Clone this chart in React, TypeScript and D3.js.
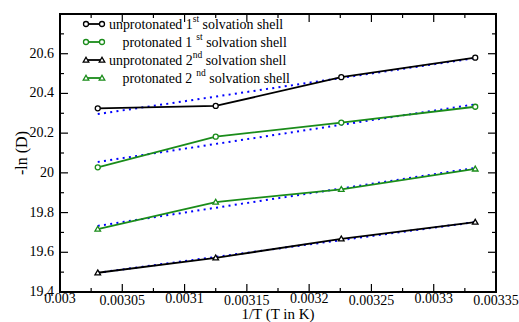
import React from "react";
import * as d3 from "d3";

const xTemps = [330, 320, 310, 300];
const xValues = xTemps.map((t) => 1 / t);

const unprot1 = [20.325, 20.337, 20.482, 20.58];
const prot1 = [20.028, 20.182, 20.253, 20.333];
const unprot2 = [19.497, 19.572, 19.668, 19.752];
const prot2 = [19.717, 19.853, 19.917, 20.02];

// fitted (dotted blue) lines: values at first and last x
const fitUnprot1 = [20.296, 20.578];
const fitProt1 = [20.055, 20.345];
const fitUnprot2 = [19.497, 19.752];
const fitProt2 = [19.733, 20.025];

const xTicks = [0.003, 0.00305, 0.0031, 0.00315, 0.0032, 0.00325, 0.0033, 0.00335];
const xTickLabels = ["0.003", "0.00305", "0.0031", "0.00315", "0.0032", "0.00325", "0.0033", "0.00335"];
const yTicks = [19.4, 19.6, 19.8, 20, 20.2, 20.4, 20.6];
const yTickLabels = ["19.4", "19.6", "19.8", "20", "20.2", "20.4", "20.6"];

const W = 519, H = 322;
const L = 60, R = 496, T = 14, B = 292;

export default function App() {
  const x = d3.scaleLinear().domain([0.003, 0.00335]).range([L, R]);
  const y = d3.scaleLinear().domain([19.4, 20.8]).range([B, T]);
  const line = d3.line<number>().x((_, i) => x(xValues[i])).y((d) => y(d));
  const fitLine = (f: number[]) =>
    `M${x(xValues[0])},${y(f[0])}L${x(xValues[3])},${y(f[1])}`;

  const font = "Liberation Serif, DejaVu Serif, serif";
  const xMinor = d3.range(0, 15).map((i) => 0.003 + i * 0.000025);
  const yMinor = d3.range(0, 15).map((i) => 19.4 + i * 0.1);

  const tri = (cx: number, cy: number, s = 2.8) =>
    `M${cx},${cy - s}L${cx + s},${cy + s * 0.75}L${cx - s},${cy + s * 0.75}Z`;

  const series = [
    { data: unprot1, color: "#000", marker: "circle", fit: fitUnprot1 },
    { data: prot1, color: "#1a8c1a", marker: "circle", fit: fitProt1 },
    { data: unprot2, color: "#000", marker: "tri", fit: fitUnprot2 },
    { data: prot2, color: "#1a8c1a", marker: "tri", fit: fitProt2 },
  ];

  const marker = (m: string, cx: number, cy: number, c: string, k: string) =>
    m === "circle" ? (
      <circle key={k} cx={cx} cy={cy} r={2.5} fill="white" stroke={c} strokeWidth={1.3} />
    ) : (
      <path key={k} d={tri(cx, cy)} fill="white" stroke={c} strokeWidth={1.3} />
    );

  const legend = [
    { pre: "unprotonated 1", sup: "st", post: " solvation shell", tx: 109, gap: 0 },
    { pre: "protonated 1", sup: "st", post: " solvation shell", tx: 122.5, gap: 4 },
    { pre: "unprotonated 2", sup: "nd", post: " solvation shell", tx: 109, gap: 0 },
    { pre: "protonated 2", sup: "nd", post: " solvation shell", tx: 122.5, gap: 4 },
  ];

  return (
    <svg width={W} height={H} style={{ position: "absolute", left: 0, top: 0, background: "white", fontFamily: font }}>
      <rect width={W} height={H} fill="white" />
      {series.map((s, i) => (
        <path key={"f" + i} d={fitLine(s.fit)} stroke="#0000ff" strokeWidth={2} strokeDasharray="2 4.3" fill="none" />
      ))}
      {series.map((s, i) => (
        <g key={"s" + i}>
          <path d={line(s.data) || ""} stroke={s.color} strokeWidth={1.8} fill="none" />
          {s.data.map((v, j) => marker(s.marker, x(xValues[j]), y(v), s.color, "m" + j))}
        </g>
      ))}
      <rect x={L} y={T} width={R - L} height={B - T} fill="none" stroke="#000" strokeWidth={2} />
      {xMinor.map((v, i) => {
        const len = i % 2 === 0 ? 8 : 4;
        const px = x(v);
        return (
          <g key={"xt" + i}>
            <line x1={px} x2={px} y1={B} y2={B - len} stroke="#000" strokeWidth={1.2} />
            <line x1={px} x2={px} y1={T} y2={T + len} stroke="#000" strokeWidth={1.2} />
          </g>
        );
      })}
      {yMinor.map((v, i) => {
        const len = i % 2 === 0 ? 8 : 4;
        const py = y(v);
        return (
          <g key={"yt" + i}>
            <line x1={L} x2={L + len} y1={py} y2={py} stroke="#000" strokeWidth={1.2} />
            <line x1={R} x2={R - len} y1={py} y2={py} stroke="#000" strokeWidth={1.2} />
          </g>
        );
      })}
      {xTicks.map((v, i) => (
        <text key={"xl" + i} x={x(v)} y={i % 2 === 0 ? 303 : 305} textAnchor="middle" fontFamily={font} fontSize={14}>
          {xTickLabels[i]}
        </text>
      ))}
      {yTicks.map((v, i) => (
        <text key={"yl" + i} x={54} y={y(v) + 4} textAnchor="end" fontFamily={font} fontSize={14}>
          {yTickLabels[i]}
        </text>
      ))}
      <text x={278} y={319} textAnchor="middle" fontFamily={font} fontSize={15}>1/T (T in K)</text>
      <text transform={`translate(27,${(T + B) / 2}) rotate(-90)`} textAnchor="middle" fontFamily={font} fontSize={16}>-ln (D)</text>
      {legend.map((l, i) => {
        const ly = 24 + i * 18;
        const s = series[i];
        return (
          <g key={"lg" + i}>
            <line x1={86} x2={102} y1={ly} y2={ly} stroke={s.color} strokeWidth={1.8} />
            {marker(s.marker, 86, ly, s.color, "a")}
            {marker(s.marker, 102, ly, s.color, "b")}
            <text x={l.tx} y={ly + 5} fontFamily={font} fontSize={13.9}>
              {l.pre}
              <tspan dx={l.gap} dy={-7} fontSize={9.5}>{l.sup}</tspan>
              <tspan dy={7}>{l.post}</tspan>
            </text>
          </g>
        );
      })}
    </svg>
  );
}
